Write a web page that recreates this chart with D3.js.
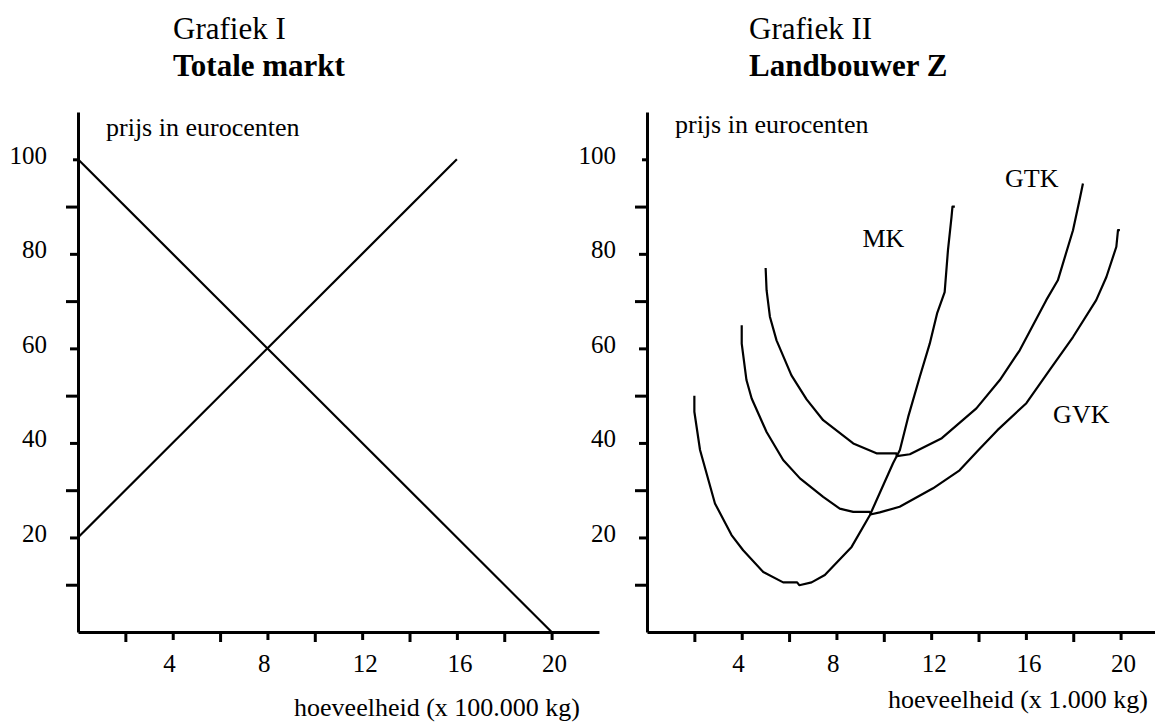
<!DOCTYPE html>
<html>
<head>
<meta charset="utf-8">
<script src="https://cdn.jsdelivr.net/npm/d3@7"></script>
<style>
body { margin: 0; background: #fff; }
text { font-family: "Liberation Serif", "Times New Roman", serif; fill: #000; }
</style>
</head>
<body>
<div id="chart"></div>
<script>
// tick values
const yTicks = [10, 20, 30, 40, 50, 60, 70, 80, 90, 100];
const xTicks = [2, 4, 6, 8, 10, 12, 14, 16, 18, 20];

// Grafiek I: totale markt (x in 100.000 kg, prijs in eurocenten)
const demand = [[0, 100], [20, 0]];
const supply = [[0, 20], [16, 100]];

// Grafiek II: landbouwer Z (x in 1.000 kg)
const mk = [[2, 50], [2, 46.6], [2.24, 38.5], [2.87, 27.2], [3.57, 20.5], [4.06, 17.3],
  [4.91, 12.7], [5.75, 10.5], [6.34, 10.5], [6.43, 9.9], [6.95, 10.5], [7.51, 12.05],
  [8.64, 18], [9.41, 24.7], [10.39, 35.7], [10.68, 38.5], [11.03, 45.5], [11.52, 54],
  [11.94, 61], [12.25, 67.4], [12.57, 71.9], [12.71, 80.8], [12.86, 87.8], [12.9, 90], [13, 90]];
const gvk = [[4, 64.9], [4, 61], [4.2, 53.3], [4.42, 49.4], [5.05, 42.3], [5.75, 36.4],
  [6.46, 32.5], [7.44, 28.6], [8.14, 26.1], [8.71, 25.4], [9.41, 25.4], [9.48, 24.9],
  [9.83, 25.3], [10.67, 26.5], [12.08, 30.4], [13.2, 34.2], [14, 38.5], [14.8, 42.7],
  [16.02, 48.4], [17, 55.4], [17.99, 62.4], [18.97, 70.2], [19.4, 75.1], [19.82, 81.5],
  [19.89, 85], [19.97, 85]];
const gtk = [[5.01, 77], [5.05, 72.3], [5.19, 66.7], [5.47, 61.7], [6.1, 54.3], [6.74, 49.2],
  [7.44, 44.8], [8.71, 39.9], [9.69, 37.8], [10.53, 37.8], [10.55, 37.2], [11.1, 37.6],
  [12.45, 41], [13.91, 47.3], [14.9, 53.3], [15.74, 59.6], [16.86, 70.2], [17.35, 74.4],
  [17.99, 85], [18.27, 91.5], [18.41, 94.9]];
const curveNames = ["MK", "GTK", "GVK"];
const curveLabelPos = [[9.1, 81.4], [15.12, 94.1], [17.15, 44.2]];

const svg = d3.select("#chart").append("svg").attr("width", 1155).attr("height", 722);

const panels = [
  { left: 78, title: "Grafiek I", sub: "Totale markt", titleX: 173,
    xlab: "hoeveelheid (x 100.000 kg)", xlabEnd: 580, xlabY: 716, ylabY: 136 },
  { left: 647, title: "Grafiek II", sub: "Landbouwer Z", titleX: 749,
    xlab: "hoeveelheid (x 1.000 kg)", xlabEnd: 1148, xlabY: 708, ylabY: 133 }
];

const line = d3.line();

function drawPanel(p) {
  let x = d3.scaleLinear().domain([0, 22]).range([p.left, p.left + 22 * 23.68]);
  let y = d3.scaleLinear().domain([0, 110]).range([632, 632 - 110 * 4.727]);
  line.x(d => x(d[0])).y(d => y(d[1]));

  let yAxis = d3.axisLeft(y).tickValues(yTicks).tickSizeOuter(0)
    .tickFormat(d => d % 20 == 0 ? d : "");
  let gy = svg.append("g").attr("transform", `translate(${p.left},0)`).call(yAxis)
    .attr("font-family", null).attr("font-size", 25);
  gy.selectAll(".tick line").attr("x2", d => d == 100 ? -5 : (d % 20 == 0 ? -8 : -12));
  gy.selectAll(".tick text").attr("x", -31).attr("dy", "0.15em").style("font-size", "25px");

  let xAxis = d3.axisBottom(x).tickValues(xTicks).tickSizeOuter(0)
    .tickFormat(d => d % 4 == 0 ? d : "");
  let gx = svg.append("g").attr("transform", "translate(0,632)").call(xAxis)
    .attr("font-family", null).attr("font-size", 25);
  gx.selectAll(".tick line").attr("y2", d => d % 4 == 0 ? 8 : 10);
  gx.selectAll(".tick text").attr("y", 40).attr("dy", 0).attr("x", -10)
    .attr("text-anchor", "start").style("font-size", "25px");

  svg.selectAll(".domain, .tick line").attr("stroke", "#000").attr("stroke-width", 3);
  svg.selectAll(".tick text").attr("fill", "#000");

  svg.append("text").attr("x", p.titleX).attr("y", 39).style("font-size", "31px").text(p.title);
  svg.append("text").attr("x", p.titleX).attr("y", 76).style("font-size", "31px")
    .style("font-weight", "bold").text(p.sub);
  svg.append("text").attr("x", p.left + 28).attr("y", p.ylabY).style("font-size", "26px")
    .text("prijs in eurocenten");
  svg.append("text").attr("x", p.xlabEnd).attr("y", p.xlabY).attr("text-anchor", "end")
    .style("font-size", "26px").text(p.xlab);
  return [x, y];
}

drawPanel(panels[0]);
for (const s of [demand, supply]) {
  svg.append("path").datum(s).attr("d", line)
    .attr("fill", "none").attr("stroke", "#000").attr("stroke-width", 2.2);
}

let [x2, y2] = drawPanel(panels[1]);
for (const s of [mk, gvk, gtk]) {
  svg.append("path").datum(s).attr("d", line)
    .attr("fill", "none").attr("stroke", "#000").attr("stroke-width", 2.2)
    .attr("stroke-linejoin", "round");
}
svg.selectAll(".clabel").data(curveNames).enter().append("text")
  .attr("class", "clabel")
  .attr("x", (d, i) => x2(curveLabelPos[i][0]))
  .attr("y", (d, i) => y2(curveLabelPos[i][1]))
  .style("font-size", "26px")
  .text(d => d);
</script>
</body>
</html>
